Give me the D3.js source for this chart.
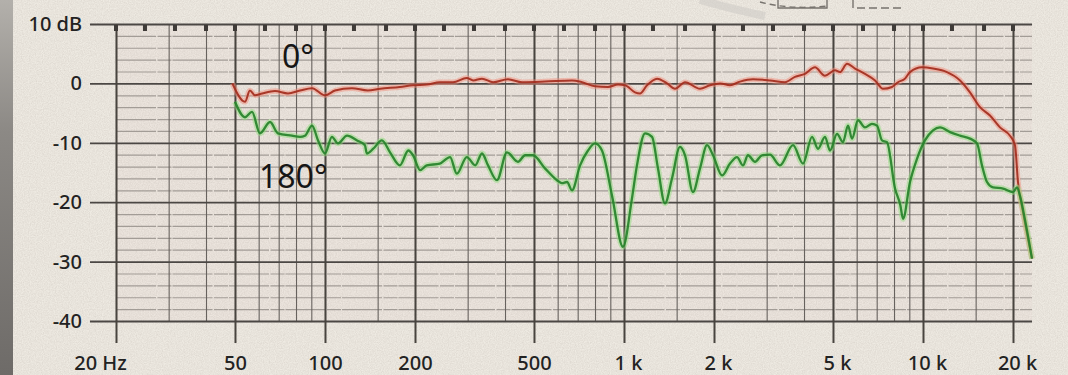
<!DOCTYPE html>
<html>
<head>
<meta charset="utf-8">
<script src="https://cdn.jsdelivr.net/npm/d3@7"></script>
<style>
  body { margin: 0; background: #eeeae2; }
  svg { display: block; }
</style>
</head>
<body>
<svg id="chart" width="1068" height="375"></svg>
<script>

// courbe 0° (rouge) : frequence en Hz, niveau en dB
var freqRouge = [49, 54, 56.1, 58.3, 61.6, 68, 75.2, 82.5, 90.5, 100, 108, 123, 139, 153, 178, 197, 219, 242, 268, 298, 313, 335, 365, 409, 456, 544, 670, 724, 800, 884, 955, 1008, 1088, 1131, 1194, 1290, 1393, 1481, 1600, 1796, 1939, 2095, 2262, 2443, 2700, 3078, 3455, 3731, 4030, 4353, 4701, 5078, 5277, 5571, 5924, 6397, 6910, 7348, 7875, 8247, 8708, 9048, 9924, 10800, 12030, 13300, 14360, 15510, 16750, 18090, 19540, 20310, 20780, 21600, 23150];
var dbRouge = [0, -3.1, -1.2, -2.0, -1.7, -1.3, -1.7, -1.2, -0.8, -2.0, -1.2, -0.8, -1.2, -0.9, -0.6, -0.3, -0.2, 0.2, 0.2, 0.9, 0.5, 0.8, 0.2, 0.7, 0.2, 0.3, 0.5, 0.2, -0.5, -0.6, -0.2, -0.3, -1.5, -1.7, -0.3, 0.8, 0, -0.9, 0.2, -0.9, -0.3, 0, -0.3, 0.3, 0.7, 0.5, 0.2, 1.1, 1.6, 2.7, 1.3, 2.2, 1.9, 3.3, 2.5, 1.6, 0.5, -0.9, -0.6, 0.2, 0.8, 1.9, 2.7, 2.5, 1.9, 0.5, -1.5, -4.0, -5.4, -7.4, -8.8, -10.4, -16.6, -21.7, -29.5];

// courbe 180° (verte)
var freqVert = [50, 54, 57, 60.6, 65.5, 69.6, 77.5, 82.5, 85.7, 90.5, 94.8, 100, 105.5, 110.5, 118.5, 128, 136, 138, 145, 155, 165, 178, 190, 197, 208, 219, 242, 262, 276, 298, 318, 335, 351, 376, 406, 442, 467, 496, 544, 597, 620, 645, 670, 713, 758, 800, 844, 912, 992, 1063, 1105, 1176, 1241, 1299, 1371, 1447, 1539, 1600, 1701, 1796, 1896, 1985, 2128, 2262, 2388, 2500, 2598, 2743, 2894, 3078, 3325, 3675, 3969, 4254, 4455, 4701, 4887, 5158, 5400, 5613, 5789, 6062, 6397, 6752, 7018, 7294, 7578, 8062, 8400, 8573, 9048, 9548, 10150, 10800, 11400, 12310, 13300, 14360, 15160, 15750, 16370, 17150, 18520, 20000, 20630, 21100, 21940, 23150];
var dbVert = [-3.1, -5.7, -4.8, -8.4, -6.5, -8.4, -8.8, -9.0, -8.8, -7.1, -9.6, -11.8, -9.0, -10.1, -8.8, -9.6, -10.4, -11.8, -11.0, -9.6, -11.6, -13.8, -11.3, -12.1, -14.6, -13.8, -13.5, -12.4, -15.2, -12.4, -13.8, -11.8, -13.8, -16.3, -11.6, -13.2, -12.1, -12.1, -14.3, -16.3, -16.8, -16.6, -18.0, -13.8, -11.3, -10.1, -11.3, -18.9, -27.5, -19.4, -13.8, -8.4, -9.0, -14.3, -20.2, -16.0, -10.7, -12.1, -18.3, -14.3, -10.4, -12.1, -15.5, -13.5, -12.4, -13.8, -12.1, -13.2, -12.1, -12.0, -13.8, -10.4, -13.5, -9.0, -11.0, -9.0, -11.3, -8.5, -9.9, -7.1, -9.3, -6.2, -7.4, -6.8, -7.1, -9.6, -9.9, -17.7, -20.5, -22.8, -16.6, -12.7, -9.6, -7.9, -7.4, -8.2, -8.8, -9.3, -10.1, -13.8, -16.6, -17.5, -17.7, -18.3, -17.5, -18.9, -23.0, -29.5];

// axes
var yTicks = [10, 0, -10, -20, -30, -40];
var yLabels = ["10 dB", "0", "-10", "-20", "-30", "-40"];
var xTicks = [20, 50, 100, 200, 500, 1000, 2000, 5000, 10000, 20000];
var xLabels = ["20 Hz", "50", "100", "200", "500", "1 k", "2 k", "5 k", "10 k", "20 k"];
var gridFreqs = [20, 30, 40, 50, 60, 70, 80, 90, 100, 150, 200, 300, 400, 500, 600, 700, 800, 900, 1000, 1500, 2000, 3000, 4000, 5000, 6000, 7000, 8000, 9000, 10000, 15000, 20000];
// petits reperes en haut (tiers d'octave)
var tiersOctave = [20, 25, 31.5, 40, 50, 63, 80, 100, 125, 160, 200, 250, 315, 400, 500, 630, 800, 1000, 1250, 1600, 2000, 2500, 3150, 4000, 5000, 6300, 8000, 10000, 12500, 16000, 20000];

// attention: "top" est deja pris par window
var gauche = 116, droite = 1032, haut = 24, bas = 321;

var x = d3.scaleLog().domain([20, 23150]).range([gauche, droite]);
var y = d3.scaleLinear().domain([-40, 10]).range([bas, haut]);

var svg = d3.select("#chart");
var font = "'Noto Sans', 'DejaVu Sans', sans-serif";

// papier + grain
var defs = svg.append("defs");
var grain = defs.append("filter").attr("id", "grain").attr("x", 0).attr("y", 0).attr("width", 1).attr("height", 1);
grain.append("feTurbulence").attr("type", "fractalNoise").attr("baseFrequency", 0.85).attr("numOctaves", 2).attr("seed", 4);
grain.append("feColorMatrix").attr("type", "matrix")
  .attr("values", "0 0 0 0 0.45  0 0 0 0 0.40  0 0 0 0 0.36  0.45 0 0 0 -0.12");

var grad = defs.append("linearGradient").attr("id", "bord").attr("x1", 0).attr("y1", 0).attr("x2", 0).attr("y2", 1);
grad.append("stop").attr("offset", "0%").attr("stop-color", "#b3b0ab");
grad.append("stop").attr("offset", "35%").attr("stop-color", "#8c8985");
grad.append("stop").attr("offset", "100%").attr("stop-color", "#6e6b68");

svg.append("rect").attr("width", 1068).attr("height", 375).attr("fill", "#eeeae2");
svg.append("rect").attr("x", gauche).attr("y", haut).attr("width", droite - gauche).attr("height", bas - haut).attr("fill", "#ece5de");
svg.append("rect").attr("width", 1068).attr("height", 375).attr("filter", "url(#grain)");
svg.append("rect").attr("width", 13).attr("height", 375).attr("fill", "url(#bord)");

// dessin coupé en haut (haut-parleur)
var deco = svg.append("g").attr("fill", "none").attr("stroke", "#77736e").attr("stroke-width", 1.4);
deco.append("path").attr("d", "M700,0 Q735,10 765,16").attr("stroke", "#cfccc7").attr("stroke-width", 8).attr("opacity", 0.6);
deco.append("path").attr("d", "M778,0 L778,8 L827,8 L827,0");
deco.append("path").attr("d", "M853,0 L853,8 L905,8").attr("stroke-dasharray", "8,4");
deco.append("path").attr("d", "M760,2 Q790,10 828,6").attr("stroke-dasharray", "6,4");

// lignes mineures horizontales (tous les 2 dB)
var yMinor = y.ticks(25).filter(function(d) { return d % 10 != 0; });
svg.append("g")
  .attr("transform", "translate(" + gauche + ",0)")
  .call(d3.axisLeft(y).tickValues(yMinor).tickSize(-(droite - gauche)).tickFormat(""))
  .call(function(g) { g.select(".domain").remove(); })
  .selectAll("line").attr("stroke", "#a29c96").attr("stroke-width", 1.2).attr("stroke-dasharray", "40,1.5,14,1");

// lignes verticales fines
svg.append("g")
  .attr("transform", "translate(0," + bas + ")")
  .call(d3.axisBottom(x).tickValues(gridFreqs).tickSize(-(bas - haut)).tickFormat(""))
  .call(function(g) { g.select(".domain").remove(); })
  .selectAll("line").attr("stroke", "#67625e").attr("stroke-width", 1.1);

// lignes principales horizontales + labels dB
var yAxe = svg.append("g")
  .attr("transform", "translate(90,0)")
  .call(d3.axisLeft(y).tickValues(yTicks).tickSize(-(droite - 90)).tickPadding(8)
    .tickFormat(function(d, i) { return yLabels[i]; }))
  .call(function(g) { g.select(".domain").remove(); });
yAxe.selectAll("line").attr("stroke", "#4b4744").attr("stroke-width", 1.8);
yAxe.selectAll("text").attr("fill", "#222").style("font-family", font).style("font-size", "20px").style("font-weight", 500);

// lignes principales verticales + labels Hz
var xAxe = svg.append("g")
  .attr("transform", "translate(0," + haut + ")")
  .call(d3.axisBottom(x).tickValues(xTicks).tickSize(343 - haut).tickPadding(13)
    .tickFormat(function(d, i) { return xLabels[i]; }))
  .call(function(g) { g.select(".domain").remove(); });
xAxe.selectAll("line").attr("stroke", "#48443f").attr("stroke-width", 2);
xAxe.selectAll("text").attr("fill", "#222").style("font-family", font).style("font-size", "20px").style("font-weight", 500)
  .attr("dx", function(d, i) {
    if (i == 0) return -16;
    if (xLabels[i].indexOf("k") > 0) return 4;
    return 0;
  });

// reperes du haut
svg.append("g").selectAll("rect")
  .data(tiersOctave)
  .enter()
  .append("rect")
  .attr("x", function(d) { return x(d) - 2; })
  .attr("y", haut + 1)
  .attr("width", 4)
  .attr("height", 6)
  .attr("fill", "#3f3b38");

// courbes
function trace(freqs, dbs, halo, couleur, epaisseur) {
  var pts = freqs.map(function(f, i) { return [f, dbs[i]]; });
  var ligne = d3.line()
    .x(function(d) { return x(d[0]); })
    .y(function(d) { return y(d[1]); })
    .curve(d3.curveMonotoneX);
  svg.append("path").datum(pts).attr("d", ligne)
    .attr("fill", "none").attr("stroke", halo).attr("stroke-width", epaisseur + 3.5)
    .attr("stroke-opacity", 0.5).attr("stroke-linejoin", "round");
  svg.append("path").datum(pts).attr("d", ligne)
    .attr("fill", "none").attr("stroke", couleur).attr("stroke-width", epaisseur)
    .attr("stroke-opacity", 0.92).attr("stroke-linejoin", "round");
}

trace(freqRouge, dbRouge, "#f2907e", "#a32c1d", 2);
trace(freqVert, dbVert, "#8fdc7e", "#26822a", 2.3);

// etiquettes des courbes
svg.append("text").attr("x", 282).attr("y", 68).text("0°")
  .attr("fill", "#161616").style("font-family", font).style("font-size", "32px");
svg.append("text").attr("x", 259).attr("y", 188).text("180°")
  .attr("fill", "#161616").style("font-family", font).style("font-size", "32px");

</script>
</body>
</html>
